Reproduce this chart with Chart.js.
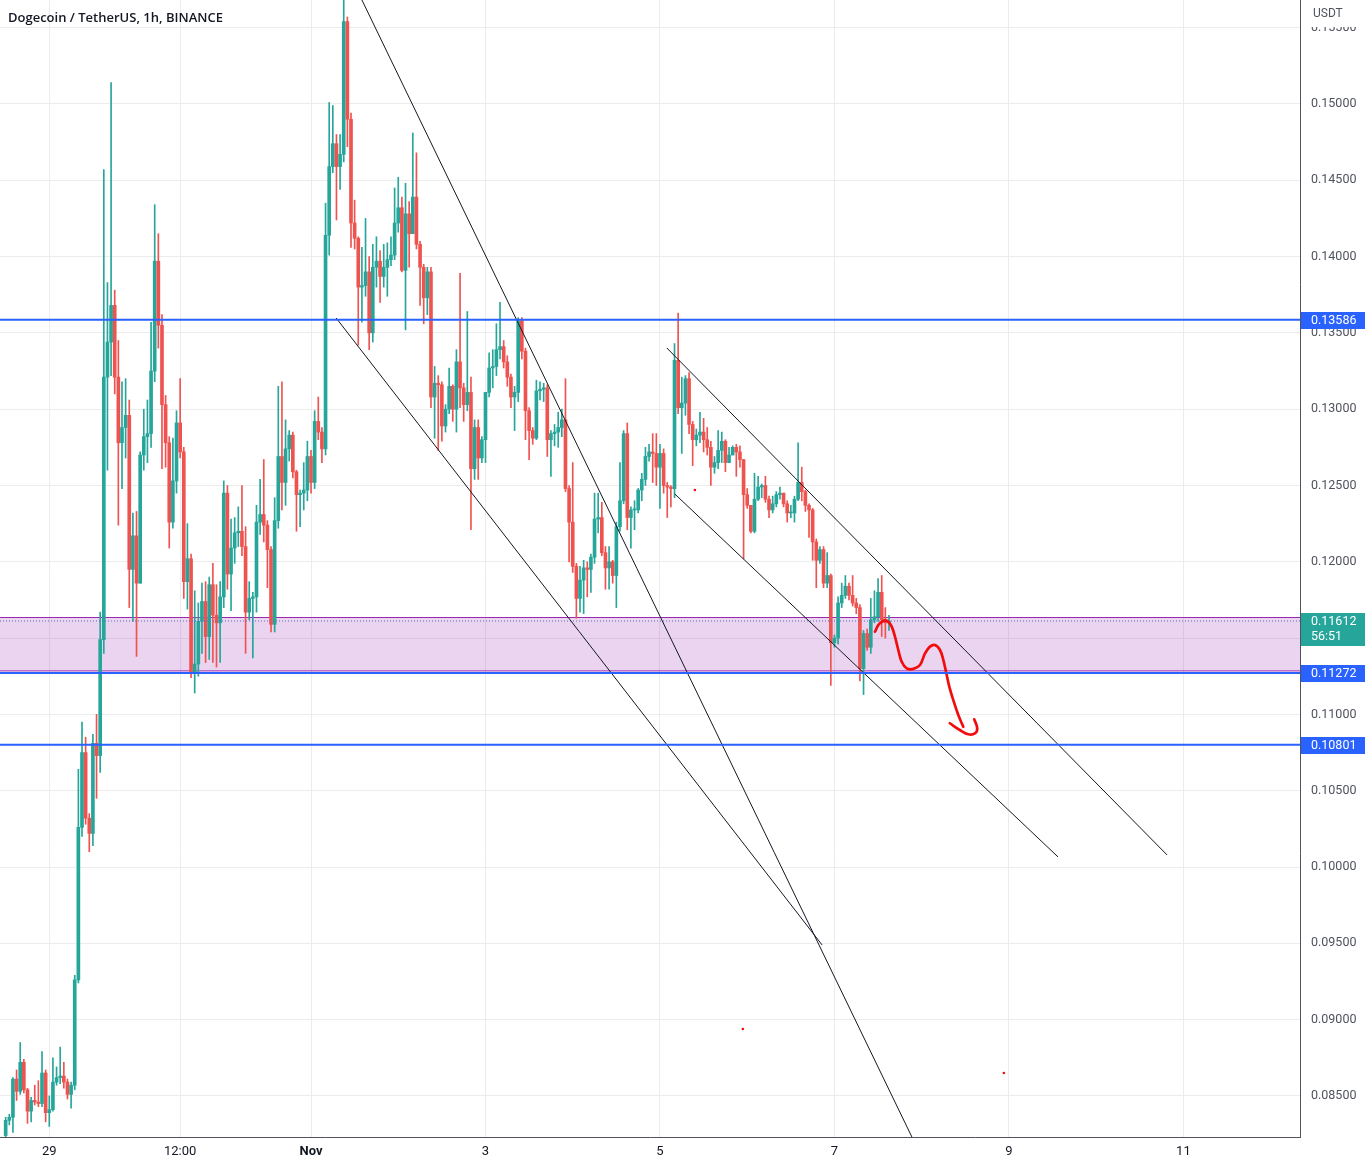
<!DOCTYPE html>
<html>
<head>
<meta charset="utf-8">
<script src="https://cdn.jsdelivr.net/npm/chart.js@4.4.0/dist/chart.umd.min.js"></script>
<style>
  html, body { margin: 0; padding: 0; background: #fff; overflow: hidden; }
  #wrap { width: 1370px; height: 1167px; }
</style>
</head>
<body>
<div id="wrap"><canvas id="chart" width="1370" height="1167"></canvas></div>
<script>
// DOGE/USDT 1h candles, Binance. x axis = hours from Oct 29 00:00.
const title = 'Dogecoin / TetherUS, 1h, BINANCE';
const quote = 'USDT';
const firstHour = -12;      // first candle: Oct 28 12:00
const firstOpen = 0.0824;

const closes = [
  0.0834, 0.0836, 0.0861, 0.0853, 0.0872, 0.0854, 0.0840, 0.0847, 0.0846, 0.0845, 0.0865, 0.0839, 0.0841, 0.0859,
  0.0862, 0.0863, 0.0859, 0.0851, 0.0857, 0.0926, 0.1026, 0.1075, 0.1032, 0.1022, 0.1081, 0.1073, 0.1149,
  0.1321, 0.1344, 0.1368, 0.1321, 0.1278, 0.1288, 0.1296, 0.1195, 0.1217, 0.1186, 0.1270, 0.1282, 0.1284, 0.1325,
  0.1397, 0.1355, 0.1303, 0.1278, 0.1226, 0.1253, 0.1291, 0.1272, 0.1187, 0.1202, 0.1128, 0.1133, 0.1161,
  0.1174, 0.1151, 0.1185, 0.1165, 0.1160, 0.1177, 0.1245, 0.1192, 0.1209, 0.1219, 0.1220, 0.1210, 0.1167, 0.1176,
  0.1177, 0.1226, 0.1231, 0.1224, 0.1208, 0.1159, 0.1227, 0.1269, 0.1252, 0.1274, 0.1283, 0.1259, 0.1244, 0.1245,
  0.1247, 0.1269, 0.1252, 0.1292, 0.1285, 0.1274,
  0.1414, 0.1459, 0.1474, 0.1459, 0.1467, 0.1554, 0.1490, 0.1422, 0.1412, 0.1380, 0.1381, 0.1390, 0.1350, 0.1393,
  0.1397, 0.1387, 0.1393, 0.1398, 0.1401, 0.1422, 0.1432, 0.1391, 0.1428, 0.1415, 0.1439, 0.1408, 0.1393, 0.1373, 0.1390,
  0.1308, 0.1317, 0.1316, 0.1289, 0.1300, 0.1315, 0.1300, 0.1331, 0.1314, 0.1303, 0.1311, 0.1261, 0.1288, 0.1268,
  0.1280, 0.1311, 0.1327, 0.1328, 0.1339, 0.1341, 0.1331, 0.1321, 0.1308, 0.1311, 0.1358, 0.1338, 0.1299, 0.1286,
  0.1281, 0.1312, 0.1313, 0.1314, 0.1280, 0.1284, 0.1285, 0.1288,
  0.1293, 0.1248, 0.1226, 0.1197, 0.1176, 0.1188, 0.1196, 0.1195, 0.1203, 0.1228, 0.1229, 0.1206, 0.1196, 0.1200,
  0.1191, 0.1223, 0.1240, 0.1284, 0.1229, 0.1234, 0.1234, 0.1247, 0.1254, 0.1269, 0.1272, 0.1271, 0.1262, 0.1271,
  0.1250, 0.1249, 0.1248, 0.1332, 0.1301, 0.1304, 0.1320,
  0.1290, 0.1280, 0.1283, 0.1285, 0.1280, 0.1275, 0.1262, 0.1265, 0.1273, 0.1279, 0.1265, 0.1270, 0.1275, 0.1272,
  0.1267, 0.1244, 0.1237, 0.1220, 0.1241, 0.1249, 0.1250, 0.1241, 0.1234, 0.1238, 0.1244, 0.1245, 0.1238, 0.1232,
  0.1232, 0.1241, 0.1252, 0.1246, 0.1237, 0.1234, 0.1213, 0.1201, 0.1208,
  0.1186, 0.1191, 0.1147, 0.1150, 0.1173, 0.1178, 0.1184, 0.1178, 0.1173, 0.1170, 0.1130, 0.1153, 0.1144, 0.1162,
  0.1164, 0.1180, 0.1162, 0.1160, 0.11612
];

const highs = [
  0.0836, 0.0838, 0.0862, 0.0867, 0.0885, 0.0874, 0.0855, 0.0849, 0.0857, 0.0860, 0.0879, 0.0867, 0.0850, 0.0875,
  0.0869, 0.0882, 0.0872, 0.0861, 0.0859, 0.0929, 0.1064, 0.1095, 0.1085, 0.1035, 0.1087, 0.1100, 0.1167,
  0.1457, 0.1383, 0.1514, 0.1378, 0.1345, 0.1318, 0.1320, 0.1306, 0.1232, 0.1233, 0.1272, 0.1300, 0.1306, 0.1357,
  0.1434, 0.1415, 0.1362, 0.1309, 0.1282, 0.1281, 0.1299, 0.1320, 0.1275, 0.1225, 0.1205, 0.1181, 0.1173,
  0.1186, 0.1187, 0.1190, 0.1199, 0.1185, 0.1187, 0.1253, 0.1250, 0.1228, 0.1229, 0.1236, 0.1250, 0.1223, 0.1187,
  0.1180, 0.1237, 0.1254, 0.1267, 0.1227, 0.1210, 0.1242, 0.1315, 0.1318, 0.1293, 0.1286, 0.1285, 0.1260, 0.1247,
  0.1265, 0.1279, 0.1273, 0.1299, 0.1308, 0.1288,
  0.1435, 0.1501, 0.1499, 0.1480, 0.1480, 0.1568, 0.1557, 0.1494, 0.1437, 0.1413, 0.1406, 0.1425, 0.1400, 0.1408,
  0.1413, 0.1404, 0.1408, 0.1409, 0.1413, 0.1445, 0.1452, 0.1439, 0.1448, 0.1436, 0.1481, 0.1468, 0.1410, 0.1395, 0.1393,
  0.1393, 0.1328, 0.1322, 0.1318, 0.1303, 0.1327, 0.1316, 0.1339, 0.1389, 0.1317, 0.1364, 0.1321, 0.1293, 0.1293,
  0.1282, 0.1311, 0.1337, 0.1339, 0.1356, 0.1370, 0.1345, 0.1335, 0.1323, 0.1315, 0.1360, 0.1360, 0.1340, 0.1301,
  0.1288, 0.1319, 0.1318, 0.1317, 0.1316, 0.1286, 0.1290, 0.1298,
  0.1300, 0.1320, 0.1250, 0.1265, 0.1199, 0.1197, 0.1201, 0.1200, 0.1205, 0.1245, 0.1245, 0.1239, 0.1210, 0.1210,
  0.1201, 0.1226, 0.1265, 0.1286, 0.1291, 0.1236, 0.1240, 0.1248, 0.1258, 0.1275, 0.1277, 0.1284, 0.1284, 0.1277,
  0.1274, 0.1252, 0.1250, 0.1343, 0.1363, 0.1321, 0.1322,
  0.1324, 0.1292, 0.1287, 0.1298, 0.1294, 0.1288, 0.1279, 0.1269, 0.1286, 0.1285, 0.1280, 0.1275, 0.1276, 0.1277,
  0.1276, 0.1267, 0.1248, 0.1237, 0.1258, 0.1256, 0.1251, 0.1256, 0.1243, 0.1243, 0.1246, 0.1249, 0.1244, 0.1240,
  0.1237, 0.1243, 0.1278, 0.1262, 0.1247, 0.1238, 0.1235, 0.1215, 0.1210,
  0.1210, 0.1206, 0.1192, 0.1152, 0.1177, 0.1186, 0.1191, 0.1186, 0.1191, 0.1176, 0.1172, 0.1155, 0.1156, 0.1176,
  0.1181, 0.1189, 0.1191, 0.1170, 0.1165
];

const lows = [
  0.0823, 0.0831, 0.0826, 0.0847, 0.0851, 0.0852, 0.0832, 0.0833, 0.0844, 0.0843, 0.0843, 0.0833, 0.0830, 0.0840,
  0.0857, 0.0858, 0.0855, 0.0848, 0.0842, 0.0854, 0.0924, 0.1020, 0.1028, 0.1010, 0.1014, 0.1045, 0.1062,
  0.1140, 0.1260, 0.1322, 0.1310, 0.1224, 0.1248, 0.1268, 0.1170, 0.1161, 0.1138, 0.1187, 0.1260, 0.1265, 0.1275,
  0.1318, 0.1340, 0.1261, 0.1262, 0.1209, 0.1222, 0.1245, 0.1268, 0.1176, 0.1169, 0.1124, 0.1114, 0.1125,
  0.1140, 0.1134, 0.1136, 0.1134, 0.1131, 0.1134, 0.1170, 0.1182, 0.1168, 0.1199, 0.1210, 0.1204, 0.1140, 0.1162,
  0.1137, 0.1167, 0.1218, 0.1213, 0.1183, 0.1154, 0.1154, 0.1222, 0.1234, 0.1237, 0.1266, 0.1255, 0.1220, 0.1223,
  0.1234, 0.1240, 0.1245, 0.1248, 0.1280, 0.1265,
  0.1270, 0.1401, 0.1455, 0.1424, 0.1444, 0.1462, 0.1472, 0.1406, 0.1405, 0.1342, 0.1357, 0.1374, 0.1339, 0.1344,
  0.1380, 0.1370, 0.1380, 0.1374, 0.1394, 0.1398, 0.1416, 0.1390, 0.1352, 0.1393, 0.1415, 0.1405, 0.1368, 0.1356, 0.1362,
  0.1301, 0.1281, 0.1273, 0.1279, 0.1285, 0.1297, 0.1292, 0.1285, 0.1301, 0.1292, 0.1299, 0.1221, 0.1254, 0.1254,
  0.1265, 0.1265, 0.1308, 0.1314, 0.1322, 0.1333, 0.1327, 0.1315, 0.1301, 0.1286, 0.1305, 0.1333, 0.1280, 0.1267,
  0.1277, 0.1280, 0.1306, 0.1305, 0.1269, 0.1256, 0.1276, 0.1275,
  0.1282, 0.1246, 0.1200, 0.1193, 0.1163, 0.1167, 0.1166, 0.1177, 0.1180, 0.1199, 0.1219, 0.1204, 0.1182, 0.1182,
  0.1186, 0.1170, 0.1220, 0.1238, 0.1221, 0.1209, 0.1221, 0.1232, 0.1240, 0.1250, 0.1266, 0.1252, 0.1250, 0.1235,
  0.1245, 0.1229, 0.1236, 0.1242, 0.1297, 0.1271, 0.1296,
  0.1284, 0.1263, 0.1276, 0.1278, 0.1272, 0.1270, 0.1250, 0.1258, 0.1261, 0.1265, 0.1259, 0.1265, 0.1270, 0.1256,
  0.1262, 0.1202, 0.1235, 0.1219, 0.1219, 0.1240, 0.1242, 0.1239, 0.1229, 0.1232, 0.1236, 0.1241, 0.1236, 0.1226,
  0.1229, 0.1226, 0.1240, 0.1240, 0.1233, 0.1216, 0.1201, 0.1183, 0.1199,
  0.1183, 0.1183, 0.1119, 0.1144, 0.1146, 0.1170, 0.1176, 0.1175, 0.1171, 0.1166, 0.1122, 0.1113, 0.1142, 0.1140,
  0.1160, 0.1161, 0.1151, 0.1150, 0.1155
];

// axes
const xTickHours = [0, 36, 72, 120, 168, 216, 264, 312];
const xTickLabels = ['29', '12:00', 'Nov', '3', '5', '7', '9', '11'];
const priceTicks = [0.085, 0.090, 0.095, 0.100, 0.105, 0.110, 0.115, 0.120, 0.125, 0.130, 0.135, 0.140, 0.145, 0.150, 0.155];
const xMin = -13.56, xMax = 344.07;
const yMin = 0.082307, yMax = 0.156815;

// drawings
const levelPrices = [0.13586, 0.11272, 0.10801];
const zoneTop = 0.11635, zoneBottom = 0.11285;
const lastPrice = 0.11612;
const countdown = '56:51';
const trendLines = [
  [[86.0, 0.15682], [237.3, 0.08231]],
  [[78.9, 0.13598], [212.6, 0.09489]],
  [[169.9, 0.13401], [307.5, 0.10079]],
  [[172.1, 0.12444], [277.5, 0.10066]]
];
const squiggleHours = [227.15, 228.06, 229.0, 229.9, 230.8, 231.75, 232.65, 233.56, 234.5, 235.87, 237.69,
  239.53, 240.91, 242.28, 243.66, 245.03, 245.94, 246.69, 247.59, 248.69, 250.07, 251.44];
const squigglePrices = [0.11542, 0.11586, 0.11607, 0.11614, 0.11607, 0.11575, 0.11509, 0.11422, 0.11345, 0.11302, 0.11298,
  0.11324, 0.11400, 0.11444, 0.11455, 0.11422, 0.11357, 0.11280, 0.11182, 0.11094, 0.10996, 0.10919];
const arrowHours = [247.73, 250.48, 252.82, 254.65, 255.28, 254.45];
const arrowPrices = [0.10942, 0.10898, 0.10870, 0.10876, 0.10909, 0.10968];
const dotHours = [177.6, 190.8, 262.6];
const dotPrices = [0.12471, 0.08938, 0.08650];

const upColor = '#26a69a', downColor = '#ef5350', levelColor = '#2962ff';
const axisFont = 'Roboto';

const opens = [firstOpen].concat(closes.slice(0, -1));
const hours = closes.map((_, i) => firstHour + i);
const colors = closes.map((c, i) => c >= opens[i] ? upColor : downColor);
const wickData = hours.map((h, i) => ({
  x: h,
  y: [Math.min(lows[i], opens[i], closes[i]), Math.max(highs[i], opens[i], closes[i])]
}));
const bodyData = hours.map((h, i) => ({ x: h, y: [opens[i], closes[i]] }));

const flat = (p) => [{ x: xMin, y: p }, { x: xMax, y: p }];
const lineDs = (data, color, width, extra) => Object.assign({
  type: 'line', data, borderColor: color, borderWidth: width, pointRadius: 0,
  fill: false, tension: 0, order: 1
}, extra || {});

const datasets = [
  lineDs(flat(zoneTop), '#9c27b0', 1, { fill: '+1', backgroundColor: 'rgba(156,39,176,0.2)', order: 20 }),
  lineDs(flat(zoneBottom), '#9c27b0', 1, { order: 20 }),
  { type: 'bar', data: wickData, backgroundColor: colors, barThickness: 1, grouped: false, order: 6 },
  { type: 'bar', data: bodyData, backgroundColor: colors, barThickness: 3, grouped: false, minBarLength: 1, order: 5 },
  lineDs(flat(lastPrice), '#5c6bc0', 1, { borderDash: [1, 2], order: 4 })
];
levelPrices.forEach(p => datasets.push(lineDs(flat(p), levelColor, 2)));
trendLines.forEach(l => datasets.push(lineDs(l.map(([x, y]) => ({ x, y })), '#131722', 1)));
datasets.push(lineDs(squiggleHours.map((x, i) => ({ x, y: squigglePrices[i] })), '#f20d0d', 2.7,
  { tension: 0.4, borderCapStyle: 'round', borderJoinStyle: 'round' }));
datasets.push(lineDs(arrowHours.map((x, i) => ({ x, y: arrowPrices[i] })), '#f20d0d', 2.7,
  { tension: 0.4, borderCapStyle: 'round' }));
datasets.push({
  type: 'scatter', data: dotHours.map((x, i) => ({ x, y: dotPrices[i] })),
  backgroundColor: '#f20d0d', borderWidth: 0, pointRadius: 1.3, order: 1
});

// axis price tags, title and header
const overlay = {
  id: 'overlay',
  afterDraw(chart) {
    const ctx = chart.ctx;
    const y = chart.scales.y;
    const left = chart.chartArea.right + 1;
    ctx.save();
    ctx.textBaseline = 'middle';
    ctx.textAlign = 'left';
    ctx.font = '12.5px ' + axisFont;
    levelPrices.forEach(p => {
      const py = Math.round(y.getPixelForValue(p));
      ctx.fillStyle = levelColor;
      ctx.fillRect(left, py - 8, 64, 17);
      ctx.fillStyle = '#fff';
      ctx.fillText(p.toFixed(5), left + 10, py + 1);
    });
    const ly = Math.round(y.getPixelForValue(lastPrice));
    ctx.fillStyle = upColor;
    ctx.fillRect(left, ly - 8, 64, 33);
    ctx.fillStyle = '#fff';
    ctx.fillText(lastPrice.toFixed(5), left + 10, ly + 1);
    ctx.fillText(countdown, left + 10, ly + 16);

    ctx.fillStyle = '#fff';
    ctx.fillRect(left, 0, 70, 27);
    ctx.fillStyle = '#50535e';
    ctx.font = '12px ' + axisFont;
    ctx.fillText(quote, left + 12, 14);

    ctx.fillStyle = '#131722';
    ctx.font = '600 13px "Open Sans"';
    ctx.fillText(title, 8, 18);
    ctx.restore();
  }
};

new Chart(document.getElementById('chart'), {
  type: 'bar',
  data: { datasets },
  options: {
    responsive: false,
    animation: false,
    devicePixelRatio: 1,
    layout: { padding: 0, autoPadding: false },
    plugins: { legend: { display: false }, tooltip: { enabled: false } },
    scales: {
      x: {
        type: 'linear', min: xMin, max: xMax, offset: false,
        grid: { color: '#ececec', drawTicks: false, offset: false },
        border: { color: '#50535e', width: 1 },
        afterBuildTicks: s => { s.ticks = xTickHours.map(v => ({ value: v })); },
        afterFit: s => { s.height = 30; s.paddingLeft = 0; s.paddingRight = 0; },
        ticks: {
          padding: 7, color: '#131722', maxRotation: 0, autoSkip: false,
          callback: (v, i) => xTickLabels[i],
          font: c => ({ family: axisFont, size: 13, weight: xTickLabels[c.index] === 'Nov' ? 'bold' : 'normal' })
        }
      },
      y: {
        type: 'linear', position: 'right', min: yMin, max: yMax,
        grid: { color: '#ececec', drawTicks: false },
        border: { color: '#50535e', width: 1 },
        afterBuildTicks: s => { s.ticks = priceTicks.map(v => ({ value: v })); },
        afterFit: s => { s.width = 70; s.paddingTop = 0; s.paddingBottom = 0; },
        ticks: {
          padding: 11, color: '#50535e', font: { family: axisFont, size: 12.5 },
          callback: v => v.toFixed(5)
        }
      }
    }
  },
  plugins: [overlay]
});
</script>
</body>
</html>
